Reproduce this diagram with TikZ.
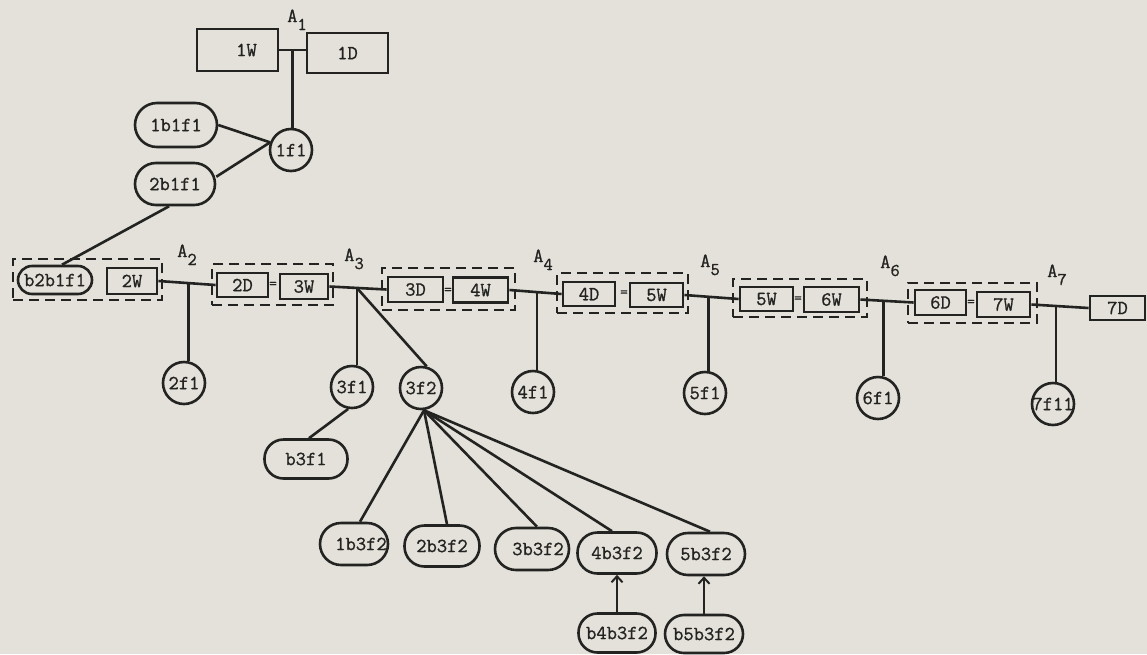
\documentclass[tikz,border=0pt]{standalone}
\usepackage{fontspec}
\newfontfamily\tw{Latin Modern Mono}[FakeBold=1]
\usetikzlibrary{calc,arrows.meta}
\definecolor{paper}{HTML}{E3E1D9}
\definecolor{ink}{HTML}{232321}
\begin{document}
\begin{tikzpicture}[x=1pt,y=-1pt,
  every node/.style={font=\tw\fontsize{20}{21}\selectfont, text=ink},
  box/.style={draw=ink, line width=2.9pt, rectangle, inner sep=0pt},
  stad/.style={draw=ink, line width=2.6pt, rectangle, rounded corners=#1, inner sep=0pt},
  circ/.style={draw=ink, line width=2.6pt, circle, minimum size=42pt, inner sep=0pt},
  grp/.style={draw=ink, line width=2.5pt, dash pattern=on 10pt off 6pt, rectangle, inner sep=0pt},
  conn/.style={draw=ink, line width=2.6pt},
  arr/.style={conn, -{Straight Barb[length=6pt,width=11pt,line width=2pt]}},
  eqsign/.style={inner sep=0pt, font=\tw\fontsize{15}{15}\selectfont},
  albl/.style={inner sep=0pt, anchor=base west}]
\useasboundingbox (0,0) rectangle (1147,654);
\fill[paper] (0,0) rectangle (1147,654);

% labels A_i
\newcommand{\sublbl}[1]{A\raisebox{-8pt}{\fontsize{18}{18}\selectfont #1}}
\node[albl] (A1) at (287,22) {\sublbl{1}};
\node[albl] (A2) at (177,257) {\sublbl{2}};
\node[albl] (A3) at (344,261) {\sublbl{3}};
\node[albl] (A4) at (533,262) {\sublbl{4}};
\node[albl] (A5) at (700,267) {\sublbl{5}};
\node[albl] (A6) at (880,268) {\sublbl{6}};
\node[albl] (A7) at (1047,277) {\sublbl{7}};

% top
\node[box, minimum width=81pt, minimum height=42pt] (w1) at (237.5,50) {\makebox[0pt]{\hspace{18pt}1W}};
\node[box, minimum width=81pt, minimum height=40pt] (d1) at (347.5,53) {1D};
\node[circ] (f11) at (291,150) {\makebox[0pt]{1f1}};
\node[stad=22pt, minimum width=82pt, minimum height=44pt] (b11) at (176,125) {1b1f1};
\node[stad=21pt, minimum width=80pt, minimum height=42pt] (b21) at (175,184) {2b1f1};

% groups
\node[grp, minimum width=149pt, minimum height=41pt] (g1) at (87.5,279.5) {};
\node[grp, minimum width=121pt, minimum height=41pt] (g2) at (272.5,284.5) {};
\node[grp, minimum width=133pt, minimum height=42pt] (g3) at (448.5,289) {};
\node[grp, minimum width=131pt, minimum height=40pt] (g4) at (622.5,293) {};
\node[grp, minimum width=134pt, minimum height=38pt] (g5) at (800,298) {};
\node[grp, minimum width=129pt, minimum height=40pt] (g6) at (972.5,303) {};

% main row
\node[stad=14pt, minimum width=74pt, minimum height=28pt] (b22) at (55,280) {\makebox[0pt]{b2b1f1}};
\node[box, minimum width=50pt, minimum height=26pt] (w2) at (132,281) {2W};
\node[box, minimum width=51pt, minimum height=24pt] (d2) at (242.5,285) {2D};
\node[eqsign] (e2) at (273,285) {=};
\node[box, minimum width=48pt, minimum height=25pt] (w3) at (304,286.5) {3W};
\node[box, minimum width=55pt, minimum height=25pt] (d3) at (415.5,289.5) {3D};
\node[eqsign] (e3) at (448,291) {=};
\node[box, minimum width=55pt, minimum height=25pt] (w4) at (480.5,290) {4W};
\node[box, minimum width=52pt, minimum height=24pt] (d4) at (589,294) {4D};
\node[eqsign] (e4) at (624,293.5) {=};
\node[box, minimum width=53pt, minimum height=24pt] (w5) at (656.5,295) {5W};
\node[box, minimum width=53pt, minimum height=24pt] (w5b) at (766.5,299) {5W};
\node[eqsign] (e5) at (798,299.5) {=};
\node[box, minimum width=55pt, minimum height=25pt] (w6) at (831.5,299.5) {6W};
\node[box, minimum width=51pt, minimum height=25pt] (d6) at (940.5,302.5) {6D};
\node[eqsign] (e6) at (971,303) {=};
\node[box, minimum width=53pt, minimum height=25pt] (w7) at (1003.5,304.5) {7W};
\node[box, minimum width=55pt, minimum height=24pt] (d7) at (1117.5,308) {7D};

% f nodes
\node[circ] (f21) at (184,383) {\makebox[0pt]{2f1}};
\node[circ] (f31) at (352,387) {\makebox[0pt]{3f1}};
\node[circ] (f32) at (421,388) {\makebox[0pt]{3f2}};
\node[circ] (f41) at (533,392) {\makebox[0pt]{4f1}};
\node[circ] (f51) at (705,393) {\makebox[0pt]{5f1}};
\node[circ] (f61) at (878,398) {\makebox[0pt]{6f1}};
\node[circ] (f71) at (1053,404) {\makebox[0pt]{7f11}};

% bottom
\node[stad=19pt, minimum width=83pt, minimum height=39pt] (b31) at (306,459) {b3f1};
\node[stad=21pt, minimum width=68pt, minimum height=42pt] (c1) at (354,544) {\makebox[0pt]{\hspace{14pt}1b3f2}};
\node[stad=20pt, minimum width=75pt, minimum height=41pt] (c2) at (442,546) {2b3f2};
\node[stad=21pt, minimum width=74pt, minimum height=42pt] (c3) at (532,549) {\makebox[0pt]{\hspace{12pt}3b3f2}};
\node[stad=20pt, minimum width=79pt, minimum height=41pt] (c4) at (617,553) {4b3f2};
\node[stad=21pt, minimum width=78pt, minimum height=42pt] (c5) at (706,554) {5b3f2};
\node[stad=19pt, minimum width=77pt, minimum height=39pt] (cb4) at (617,633) {b4b3f2};
\node[stad=19pt, minimum width=78pt, minimum height=38pt] (cb5) at (704,634) {b5b3f2};

% junctions
\coordinate (j1) at ($(w1.east)!0.5!(w1.east -| d1.west)$);
\coordinate (j2) at ($(w2.east)!0.53!(d2.west)$);
\coordinate (j3) at ($(w3.east)!0.48!(d3.west)$);
\coordinate (j4) at ($(w4.east)!0.53!(d4.west)$);
\coordinate (j5) at ($(w5.east)!0.44!(w5b.west)$);
\coordinate (j6) at ($(w6.east)!0.43!(d6.west)$);
\coordinate (j7) at ($(w7.east)!0.43!(d7.west)$);

% connectors
\draw[conn] (w1.east) -- (w1.east -| d1.west);
\draw[conn] (j1) -- (j1 |- f11.north);
\draw[conn] (b11.east) -- (f11.160);
\draw[conn] (b21.10) -- (f11.160);
\draw[conn] (b21.-105) -- ([xshift=7pt]b22.north);

\draw[conn] (w2.east) -- (d2.west);
\draw[conn] (w3.east) -- (d3.west);
\draw[conn] (w4.east) -- (d4.west);
\draw[conn] (w5.east) -- (w5b.west);
\draw[conn] (w6.east) -- (d6.west);
\draw[conn] (w7.east) -- (d7.west);

\draw[conn] (j2) -- (j2 |- f21.north);
\draw[conn] (j3) -- (j3 |- f31.north);
\draw[conn] (j3) -- (f32.75);
\draw[conn] (j4) -- (j4 |- f41.north);
\draw[conn] (j5) -- (j5 |- f51.north);
\draw[conn] (j6) -- (j6 |- f61.north);
\draw[conn] (j7) -- (j7 |- f71.north);

\draw[conn] (f31.-100) -- ([xshift=3pt]b31.north);
\draw[conn] ([xshift=3pt]f32.south) -- ([xshift=6pt]c1.north);
\draw[conn] ([xshift=3pt]f32.south) -- ([xshift=5pt]c2.north);
\draw[conn] ([xshift=3pt]f32.south) -- ([xshift=5pt]c3.north);
\draw[conn] ([xshift=3pt]f32.south) -- ([xshift=-5pt]c4.north);
\draw[conn] ([xshift=3pt]f32.south) -- ([xshift=4pt]c5.north);

\draw[arr] (cb4.north) -- (c4.south);
\draw[arr] (cb5.north) -- (cb5.north |- c5.south);
\end{tikzpicture}
\end{document}
